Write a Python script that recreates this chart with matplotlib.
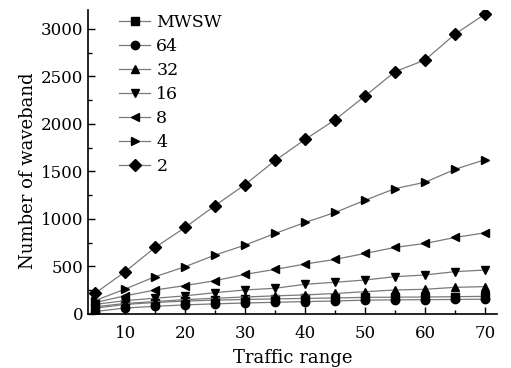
import matplotlib
matplotlib.use("Agg")
import matplotlib.pyplot as plt
from matplotlib.ticker import MultipleLocator

# traffic range (x) and number of wavebands for each granularity
traffic = [5, 10, 15, 20, 25, 30, 35, 40, 45, 50, 55, 60, 65, 70]
mwsw = [60, 100, 120, 135, 145, 152, 158, 163, 168, 174, 176, 178, 181, 185]
g64 = [25, 62, 80, 95, 106, 115, 122, 130, 136, 145, 148, 150, 152, 155]
g32 = [75, 110, 130, 150, 165, 178, 190, 200, 215, 234, 252, 259, 280, 287]
g16 = [100, 140, 165, 190, 224, 252, 270, 312, 333, 357, 392, 410, 445, 462]
g8 = [120, 190, 252, 298, 350, 416, 469, 525, 574, 637, 700, 742, 805, 854]
g4 = [140, 262, 392, 497, 620, 725, 847, 963, 1068, 1197, 1320, 1386, 1523, 1624]
g2 = [217, 444, 700, 910, 1141, 1362, 1615, 1837, 2044, 2295, 2551, 2674, 2947, 3157]

labels = ["MWSW", "64", "32", "16", "8", "4", "2"]
series = [mwsw, g64, g32, g16, g8, g4, g2]
markers = ["s", "o", "^", "v", "<", ">", "D"]

plt.rcParams["font.family"] = "DejaVu Serif"
fig = plt.figure(figsize=(5.11, 3.68), dpi=100)
ax = fig.add_axes([0.172, 0.147, 0.801, 0.826])

for ys, lab, mk in zip(series, labels, markers):
    ax.plot(traffic, ys, color="#7a7a7a", lw=0.9, marker=mk,
            ms=6, mfc="black", mec="black", label=lab)

ax.set_xlim(3.8, 72)
ax.set_ylim(0, 3200)
ax.xaxis.set_major_locator(MultipleLocator(10))
ax.xaxis.set_minor_locator(MultipleLocator(5))
ax.yaxis.set_major_locator(MultipleLocator(500))
ax.yaxis.set_minor_locator(MultipleLocator(250))
ax.tick_params(which="both", direction="in", labelsize=12, width=1)
ax.tick_params(which="major", length=5)
ax.tick_params(which="minor", length=3)
ax.tick_params(axis="x", pad=8)
ax.spines["top"].set_visible(False)
ax.spines["right"].set_visible(False)
ax.spines["left"].set_linewidth(1.2)
ax.spines["bottom"].set_linewidth(1.2)

ax.set_xlabel("Traffic range", fontsize=13, labelpad=5)
ax.set_ylabel("Number of waveband", fontsize=13)
ax.yaxis.set_label_coords(-0.125, 0.47)

ax.legend(loc="upper left", bbox_to_anchor=(0.076, 0.985), frameon=False,
          fontsize=12.5, handlelength=1.8, handletextpad=0.35,
          labelspacing=0.4, borderaxespad=0, borderpad=0)

fig.savefig("out.png", dpi=100)
